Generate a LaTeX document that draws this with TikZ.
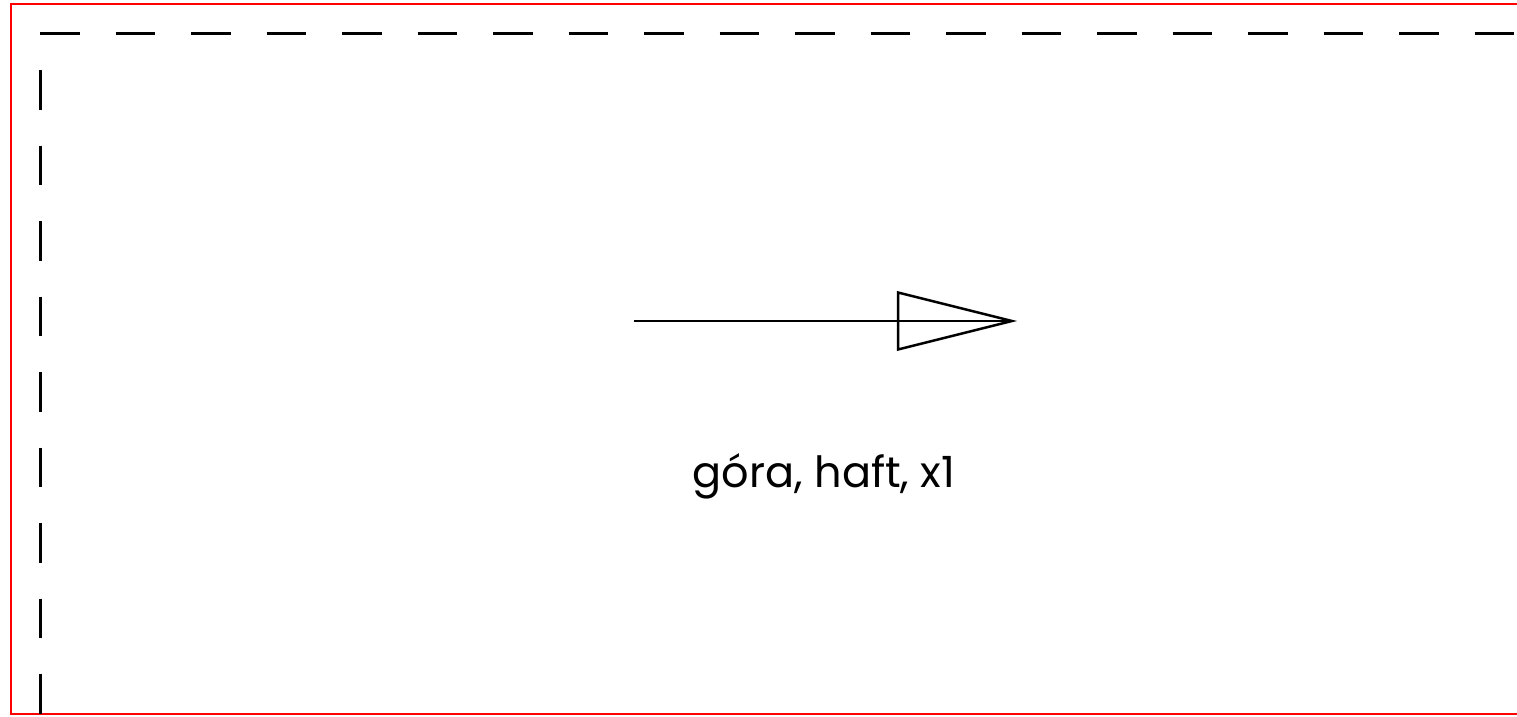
\documentclass[tikz,border=0pt]{standalone}
\usepackage{fontspec}
\setmainfont{Poppins}
\begin{document}
\begin{tikzpicture}[x=1pt,y=-1pt,
  frame/.style={draw=red,line width=2pt},
  cutline/.style={draw=black,line width=3pt,dash pattern=on 39.5pt off 36pt},
  arrowline/.style={draw=black,line width=2.5pt,line join=miter},
  label/.style={font=\fontsize{43}{50}\selectfont,inner sep=0pt}]
\useasboundingbox (0,0) rectangle (1517,717);
\clip (0,0) rectangle (1517,717);
\fill[white] (0,0) rectangle (1517,717);
\draw[frame] (11,4) rectangle (1540,714);
\coordinate (corner) at (40,34);
\coordinate (topend) at (1540,34);
\coordinate (botend) at (40,730);
\draw[cutline] (corner) -- (topend);
\draw[cutline,dash phase=39.5pt] (corner) -- (botend);
\coordinate (tail) at (634,321);
\coordinate (tip) at (1012,321);
\draw[arrowline] (tail) -- (tip);
\draw[arrowline] (tip) -- ++(-114,-28.5) -- ++(0,57) -- cycle;
\node[label] (txt) at (824,476) {góra, haft, x1};
\end{tikzpicture}
\end{document}
